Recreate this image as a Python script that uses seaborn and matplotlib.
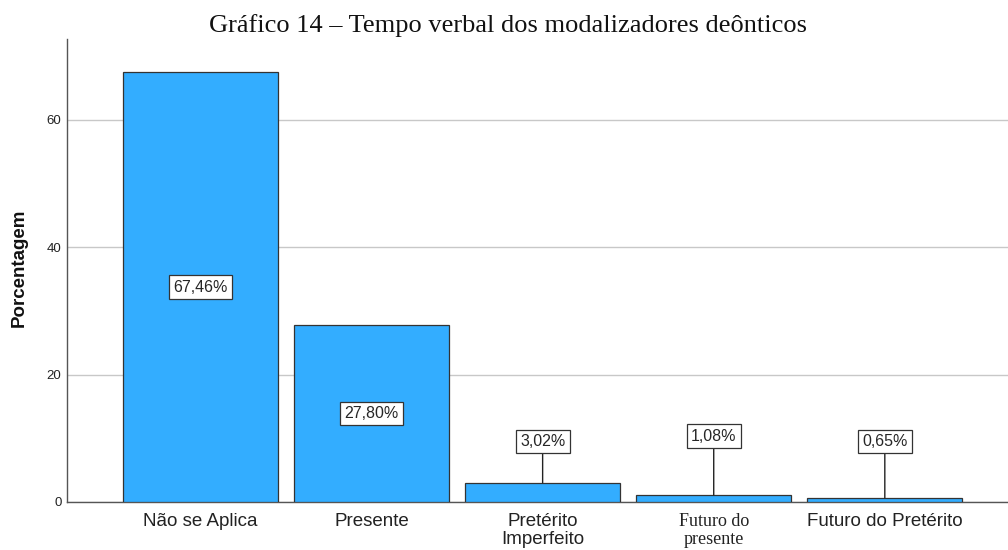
import matplotlib
matplotlib.use("Agg")
import matplotlib.pyplot as plt
import seaborn as sns
import pandas as pd

# Data
categories = ["Não se Aplica", "Presente", "Pretérito\nImperfeito",
              "Futuro do\npresente", "Futuro do Pretérito"]
percent = [67.46, 27.80, 3.02, 1.08, 0.65]
labels = ["67,46%", "27,80%", "3,02%", "1,08%", "0,65%"]

# label box heights for the small bars (layout only)
small_label_y = {2: 9.5, 3: 10.3, 4: 9.5}

df = pd.DataFrame({"cat": categories, "pct": percent})

sns.set_style("white")
plt.rcParams["font.family"] = ["Liberation Sans", "DejaVu Sans"]

fig = plt.figure(figsize=(10.08, 5.5), dpi=100)
ax = fig.add_axes([67 / 1008, 48 / 550, 941 / 1008, 463 / 550])

sns.barplot(data=df, x="cat", y="pct", color="#33adff", saturation=1,
            width=0.906, edgecolor="#333333", linewidth=0.9, ax=ax, zorder=3)

ax.set_xlim(-0.78, 4.72)
ax.set_ylim(0, 72.7)
ax.set_yticks([0, 20, 40, 60])
ax.yaxis.grid(True, color="#c8c8c8", linewidth=1.0, zorder=0)
ax.set_axisbelow(True)

for side in ["top", "right"]:
    ax.spines[side].set_visible(False)
for side in ["left", "bottom"]:
    ax.spines[side].set_color("#555555")
    ax.spines[side].set_linewidth(1.0)

ax.tick_params(axis="y", length=0, pad=4, labelsize=9.5, labelcolor="#222222")
ax.tick_params(axis="x", length=0, pad=8, labelsize=13.5, labelcolor="#222222")
ax.set_xlabel("")
ax.set_ylabel("")
for t in ax.get_xticklabels():
    t.set_linespacing(1.08)
ax.get_xticklabels()[3].set_fontfamily("Liberation Serif")
ax.get_xticklabels()[3].set_fontsize(13)

# value labels
box = dict(boxstyle="square,pad=0.28", facecolor="white", edgecolor="#333333", linewidth=0.9)
for i, (v, lab) in enumerate(zip(percent, labels)):
    if i in small_label_y:
        ax.annotate(lab, xy=(i, v), xytext=(i, small_label_y[i]),
                    ha="center", va="center", fontsize=11.5, bbox=box, zorder=5,
                    arrowprops=dict(arrowstyle="-", color="#222222", linewidth=1.0,
                                    shrinkA=0, shrinkB=0))
    else:
        ax.text(i, v / 2, lab, ha="center", va="center", fontsize=11.5, bbox=box, zorder=5)

fig.text(19 / 1008, 1 - 268 / 550, "Porcentagem", rotation=90, ha="center", va="center",
         fontsize=13.5, fontweight="bold", color="#111111")
fig.text(508 / 1008, 1 - 26 / 550, "Gráfico 14 – Tempo verbal dos modalizadores deônticos",
         ha="center", va="center", fontsize=19, family="Liberation Serif", color="#111111")

fig.savefig("out.png", dpi=100)
